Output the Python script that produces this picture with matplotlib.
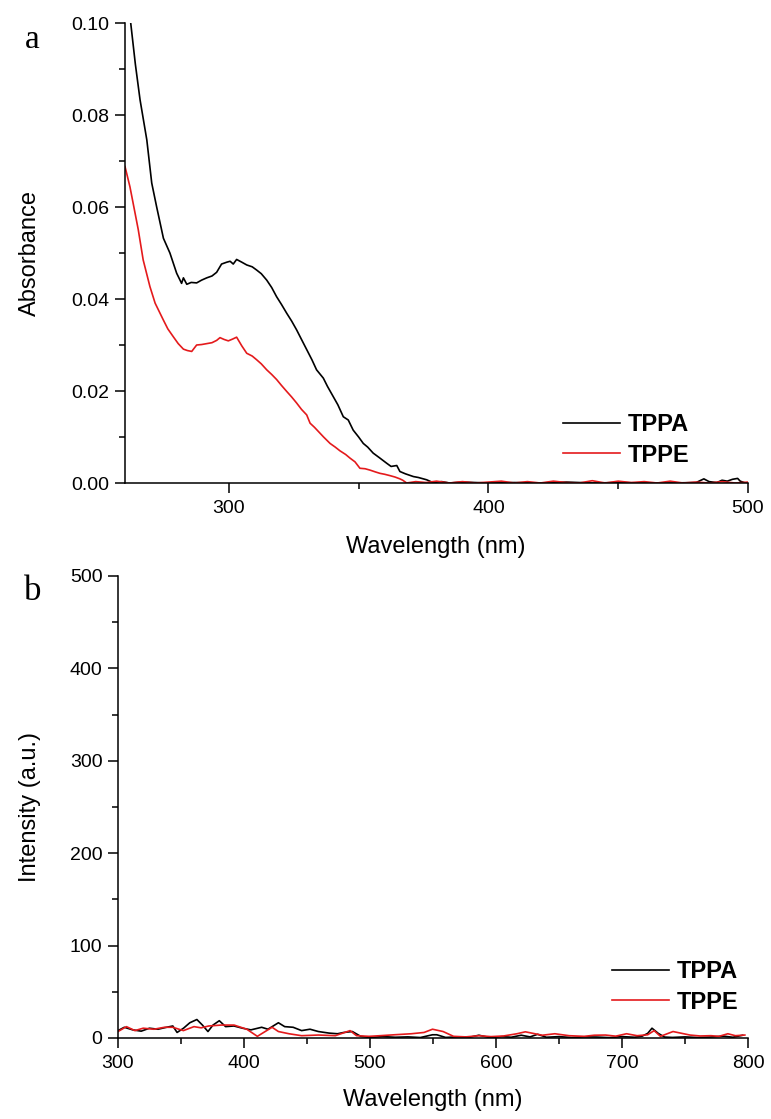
import numpy as np
from matplotlib import pyplot as plt
from matplotlib.ticker import MultipleLocator

plt.rcParams['font.family'] = ['Liberation Sans', 'DejaVu Sans']

# (a) absorbance spectra
abs_wl_tppa = [262, 264, 265.8, 268.4, 270.3, 272.2, 274.8, 277.3, 279.9, 281.8,
               282.5, 283.8, 285.5, 287.6, 289.5, 291.5, 293.5, 295.3, 297.2, 299.2,
               300.5, 301.7, 303.0, 305, 306.9, 309, 310.7, 312.5, 314.6, 316.5,
               318.4, 320.3, 322.3, 324.2, 326.1, 328, 330, 332, 333.8, 336.4,
               338, 340.2, 342, 344.1, 346, 347.9, 350, 351.8, 353.5, 355.6,
               358, 360.8, 362.5, 364.7, 365.9, 368, 371.1, 373, 376.2, 378.6,
               382, 385, 390, 400, 410, 420, 430, 440, 450, 460,
               470, 480, 483, 485, 488, 490, 492, 494, 496, 497, 499]
abs_tppa = [0.101, 0.091, 0.0833, 0.0746, 0.0652, 0.0600, 0.0532, 0.0500, 0.0456, 0.0434,
            0.0446, 0.0432, 0.0436, 0.0435, 0.0441, 0.0446, 0.0450, 0.0458, 0.0476, 0.0480,
            0.0482, 0.0476, 0.0486, 0.0480, 0.0474, 0.0470, 0.0463, 0.0455, 0.0441, 0.0425,
            0.0405, 0.0388, 0.0369, 0.0352, 0.0333, 0.0312, 0.0290, 0.0268, 0.0246, 0.0228,
            0.0210, 0.0188, 0.0170, 0.0144, 0.0137, 0.0115, 0.0100, 0.0086, 0.0078, 0.0065,
            0.0055, 0.0043, 0.0036, 0.0038, 0.0025, 0.0020, 0.0014, 0.0012, 0.0007, 0.0001,
            0.0003, 0.0, 0.0002, 0.0, 0.0001, 0.0, 0.0002, 0.0, 0.0001, 0.0,
            0.0, 0.0001, 0.0009, 0.0003, 0.0001, 0.0006, 0.0004, 0.0008, 0.0010, 0.0004, 0.0]

abs_wl_tppe = [260, 261.9, 263.9, 265.1, 267, 269.6, 271.6, 274.8, 276.5, 278.6,
               280.5, 282.5, 284, 285.7, 287.6, 289.5, 291.5, 293.5, 295.3, 296.6,
               298.2, 299.8, 301.5, 303.0, 305, 306.9, 309, 310.7, 312.5, 314.6,
               316.5, 318.4, 320.3, 322.3, 324.2, 326.1, 328, 330, 331.3, 333,
               334.5, 336.5, 339, 341, 342.8, 345, 346.7, 348.6, 350.5, 352.5,
               354.4, 356.5, 358.2, 360, 362.1, 364, 365.9, 367, 368.5, 372,
               376, 380, 385, 390, 395, 400, 405, 410, 415, 420,
               425, 430, 435, 440, 445, 450, 455, 460, 465, 470,
               475, 480, 485, 490, 495, 500]
abs_tppe = [0.0688, 0.0644, 0.0586, 0.0551, 0.0485, 0.0427, 0.0391, 0.0354, 0.0335, 0.0318,
            0.0303, 0.0291, 0.0288, 0.0286, 0.0300, 0.0301, 0.0303, 0.0305, 0.0310, 0.0316,
            0.0312, 0.0309, 0.0313, 0.0317, 0.0298, 0.0282, 0.0276, 0.0268, 0.0259, 0.0246,
            0.0236, 0.0225, 0.0212, 0.0199, 0.0187, 0.0174, 0.0160, 0.0148, 0.0130, 0.0121,
            0.0112, 0.0100, 0.0086, 0.0078, 0.0070, 0.0062, 0.0054, 0.0046, 0.0032, 0.0031,
            0.0028, 0.0024, 0.0021, 0.0019, 0.0016, 0.0013, 0.0009, 0.0006, 0.0, 0.0003,
            0.0001, 0.0004, 0.0, 0.0003, 0.0, 0.0002, 0.0004, 0.0, 0.0003, 0.0,
            0.0004, 0.0001, 0.0, 0.0005, 0.0, 0.0004, 0.0001, 0.0003, 0.0, 0.0004,
            0.0, 0.0002, 0.0, 0.0003, 0.0, 0.0002]

# (b) emission spectra
em_wl_tppa = [300, 305, 311.7, 318.4, 325, 331.8, 338.5, 343.5, 346.9, 352,
              357, 362.6, 367, 371.4, 375.4, 380.4, 385.4, 392, 398.8, 405.5,
              414, 419, 427.3, 432.3, 439, 445.7, 452.4, 459, 467.5, 474.2,
              479.2, 486, 492.6, 500, 510, 520, 530, 540, 549.6, 553,
              560, 570, 579.7, 586.4, 595, 605, 612, 620, 627, 633,
              640, 650, 660, 670, 680, 690, 700, 710, 716, 720.4,
              723.8, 728.8, 733.8, 740, 750, 760, 770, 780.7, 788, 795.8]
em_tppa = [8, 11.6, 8.8, 7.4, 10.6, 9.5, 11.6, 13, 6, 10.6,
           16.5, 20, 14, 7, 14, 18.7, 12.3, 13, 10.6, 8.8,
           11.6, 9.5, 16.5, 12.3, 11.6, 8, 9.5, 7, 5.3, 4.6,
           6, 7, 1.8, 0.5, 1.5, 0.8, 1.2, 0.5, 3.5, 3.5,
           0.6, 1.2, 1, 3, 0.5, 1.5, 0.8, 3, 1.2, 4,
           0.8, 1.5, 0.5, 1.2, 1, 0.4, 1.5, 0.8, 2, 5,
           10.6, 5, 1, 0.6, 1.2, 0.5, 1, 2, 0.8, 3]

em_wl_tppe = [300, 306.7, 313.4, 320, 328.5, 336.9, 343.5, 351.9, 360.3, 366,
              372, 382, 392.1, 402.2, 410.6, 415.6, 422.3, 427.3, 435.7, 445.7,
              459, 472.5, 484.2, 489.3, 499.3, 508, 519.4, 532.8, 542.9, 549.6,
              558, 566.3, 576, 586.4, 596, 606, 616.6, 623.3, 636.7, 646.7,
              658, 670, 678, 686.9, 695, 703.6, 712, 720.4, 725.5, 730.5,
              740.5, 753.9, 762, 770.6, 777, 784, 790, 797.5]
em_tppe = [7, 12.3, 8, 10.6, 9.5, 11.6, 11.6, 8, 12.3, 11,
           13, 14, 14, 9.5, 1.8, 6, 11.6, 7, 4.6, 2.5,
           3.2, 2.5, 8, 2.5, 1.8, 2.5, 3.5, 4.6, 6, 9.5,
           7, 1.8, 1.2, 2.5, 1.5, 2.2, 4.6, 6.7, 3, 4.6,
           2.5, 1.8, 3, 3.2, 2, 4.6, 2.5, 3.5, 8, 1.8,
           7, 3.2, 2.2, 2.5, 1.8, 4.6, 2.5, 3.2]

W, H = 771, 1119
fig = plt.figure(figsize=(W / 100, H / 100), dpi=100)

# axes boxes in pixels: left, top, right, bottom
box_a = (125, 23, 748, 483)
box_b = (118, 576, 748, 1038)


def make_axes(box):
    l, t, r, b = box
    return fig.add_axes([l / W, 1 - b / H, (r - l) / W, (b - t) / H])


def style_axes(ax):
    for side in ['top', 'right']:
        ax.spines[side].set_visible(False)
    for side in ['left', 'bottom']:
        ax.spines[side].set_linewidth(1.1)
    ax.tick_params(which='major', direction='out', length=7.2, width=1.1,
                   labelsize=14, pad=4)
    ax.tick_params(which='minor', direction='out', length=4.3, width=1.1)
    ax.tick_params(axis='x', which='major', pad=5)


red = '#e41a1c'

ax1 = make_axes(box_a)
ax1.plot(abs_wl_tppa, abs_tppa, color='black', lw=1.2, label='TPPA')
ax1.plot(abs_wl_tppe, abs_tppe, color=red, lw=1.2, label='TPPE')
ax1.set_xlim(260, 500)
ax1.set_ylim(0, 0.10)
ax1.xaxis.set_major_locator(MultipleLocator(100))
ax1.xaxis.set_minor_locator(MultipleLocator(50))
ax1.yaxis.set_major_locator(MultipleLocator(0.02))
ax1.yaxis.set_minor_locator(MultipleLocator(0.01))
ax1.yaxis.set_major_formatter(plt.FormatStrFormatter('%.2f'))
style_axes(ax1)
ax1.set_xlabel('Wavelength (nm)', fontsize=17, va='center')
ax1.set_ylabel('Absorbance', fontsize=17, va='center')
ax1.xaxis.set_label_coords(436 / W, 1 - 547 / H, transform=fig.transFigure)
ax1.yaxis.set_label_coords(30 / W, 1 - 253 / H, transform=fig.transFigure)
ax1.legend(loc='center left', bbox_to_anchor=((563 - 125) / 623, (483 - 440) / 460),
           frameon=False, borderpad=0, borderaxespad=0, handlelength=2.4,
           handletextpad=0.35, labelspacing=0.3, prop={'weight': 'bold', 'size': 17})

ax2 = make_axes(box_b)
ax2.plot(em_wl_tppa, em_tppa, color='black', lw=1.2, label='TPPA')
ax2.plot(em_wl_tppe, em_tppe, color=red, lw=1.2, label='TPPE')
ax2.set_xlim(300, 800)
ax2.set_ylim(0, 500)
ax2.xaxis.set_major_locator(MultipleLocator(100))
ax2.xaxis.set_minor_locator(MultipleLocator(50))
ax2.yaxis.set_major_locator(MultipleLocator(100))
ax2.yaxis.set_minor_locator(MultipleLocator(50))
style_axes(ax2)
ax2.set_xlabel('Wavelength (nm)', fontsize=17, va='center')
ax2.set_ylabel('Intensity (a.u.)', fontsize=17, va='center')
ax2.xaxis.set_label_coords(433 / W, 1 - 1100 / H, transform=fig.transFigure)
ax2.yaxis.set_label_coords(30 / W, 1 - 807 / H, transform=fig.transFigure)
ax2.legend(loc='center left', bbox_to_anchor=((612 - 118) / 630, (1038 - 987) / 462),
           frameon=False, borderpad=0, borderaxespad=0, handlelength=2.4,
           handletextpad=0.35, labelspacing=0.3, prop={'weight': 'bold', 'size': 17})

# panel letters
fig.text(32 / W, 1 - 40 / H, 'a', fontsize=24, family='Liberation Serif',
         ha='center', va='center')
fig.text(33 / W, 1 - 591 / H, 'b', fontsize=25, family='Liberation Serif',
         ha='center', va='center')

fig.savefig('out.png', dpi=100)
